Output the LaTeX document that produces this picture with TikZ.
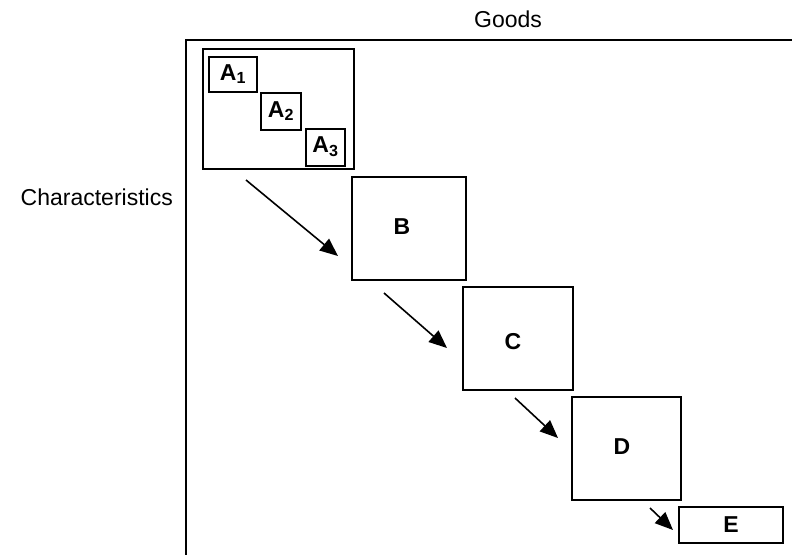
\documentclass[tikz,border=0pt]{standalone}
\usepackage{fontspec}
\setmainfont{Liberation Sans}
\usetikzlibrary{arrows.meta}
\begin{document}
\begin{tikzpicture}[x=1pt,y=-1pt,
  box/.style={draw=black,line width=2.3pt,inner sep=0pt,fill=none},
  lbl/.style={font=\fontsize{23}{26}\selectfont\bfseries,inner sep=0pt},
  sub/.style={font=\fontsize{23}{26}\selectfont\bfseries,inner sep=0pt},
  axis/.style={font=\fontsize{23}{26}\selectfont,inner sep=0pt},
  arr/.style={line width=1.6pt,-{Triangle[length=18pt,width=15pt]}}]
\useasboundingbox (0,0) rectangle (792,555);
% frame
\coordinate (ftr) at (792,40);
\coordinate (ftl) at (186,40);
\coordinate (fbl) at (186,555);
\draw[line width=2.6pt] (ftr) -- (ftl) -- (fbl);
\node[axis] (goods) at (508,19) {Goods};
\node[axis,anchor=east] (chars) at (173,197) {Characteristics};
% boxes
\node[box,minimum width=151pt,minimum height=120pt] (A) at (278.5,109) {};
\node[box,minimum width=48pt,minimum height=35pt] (A1) at (233,74.5) {};
\node[box,minimum width=40pt,minimum height=37pt] (A2) at (281,111.5) {};
\node[box,minimum width=39pt,minimum height=37pt] (A3) at (325.5,147.5) {};
\node[box,minimum width=114pt,minimum height=103pt] (B) at (409,228.5) {};
\node[box,minimum width=110pt,minimum height=103pt] (C) at (518,338.5) {};
\node[box,minimum width=109pt,minimum height=103pt] (D) at (626.5,448.5) {};
\node[box,minimum width=104pt,minimum height=36pt] (E) at (731,525) {};
% labels
\node[sub] (lA1) at (233,74) {A$_{\mathbf 1}$};
\node[sub] (lA2) at (281,111) {A$_{\mathbf 2}$};
\node[sub] (lA3) at (325.5,147) {A$_{\mathbf 3}$};
\node[lbl] (lB) at (402,227) {B};
\node[lbl] (lC) at (513,342) {C};
\node[lbl] (lD) at (622,447) {D};
\node[lbl] (lE) at (731,525) {E};
% arrows
\coordinate (s1) at (246,180); \coordinate (t1) at (338,256);
\coordinate (s2) at (384,293); \coordinate (t2) at (447,348);
\coordinate (s3) at (515,398); \coordinate (t3) at (558,438);
\coordinate (s4) at (650,508); \coordinate (t4) at (673,530);
\draw[arr] (s1) -- (t1);
\draw[arr] (s2) -- (t2);
\draw[arr] (s3) -- (t3);
\draw[arr] (s4) -- (t4);
\end{tikzpicture}
\end{document}
